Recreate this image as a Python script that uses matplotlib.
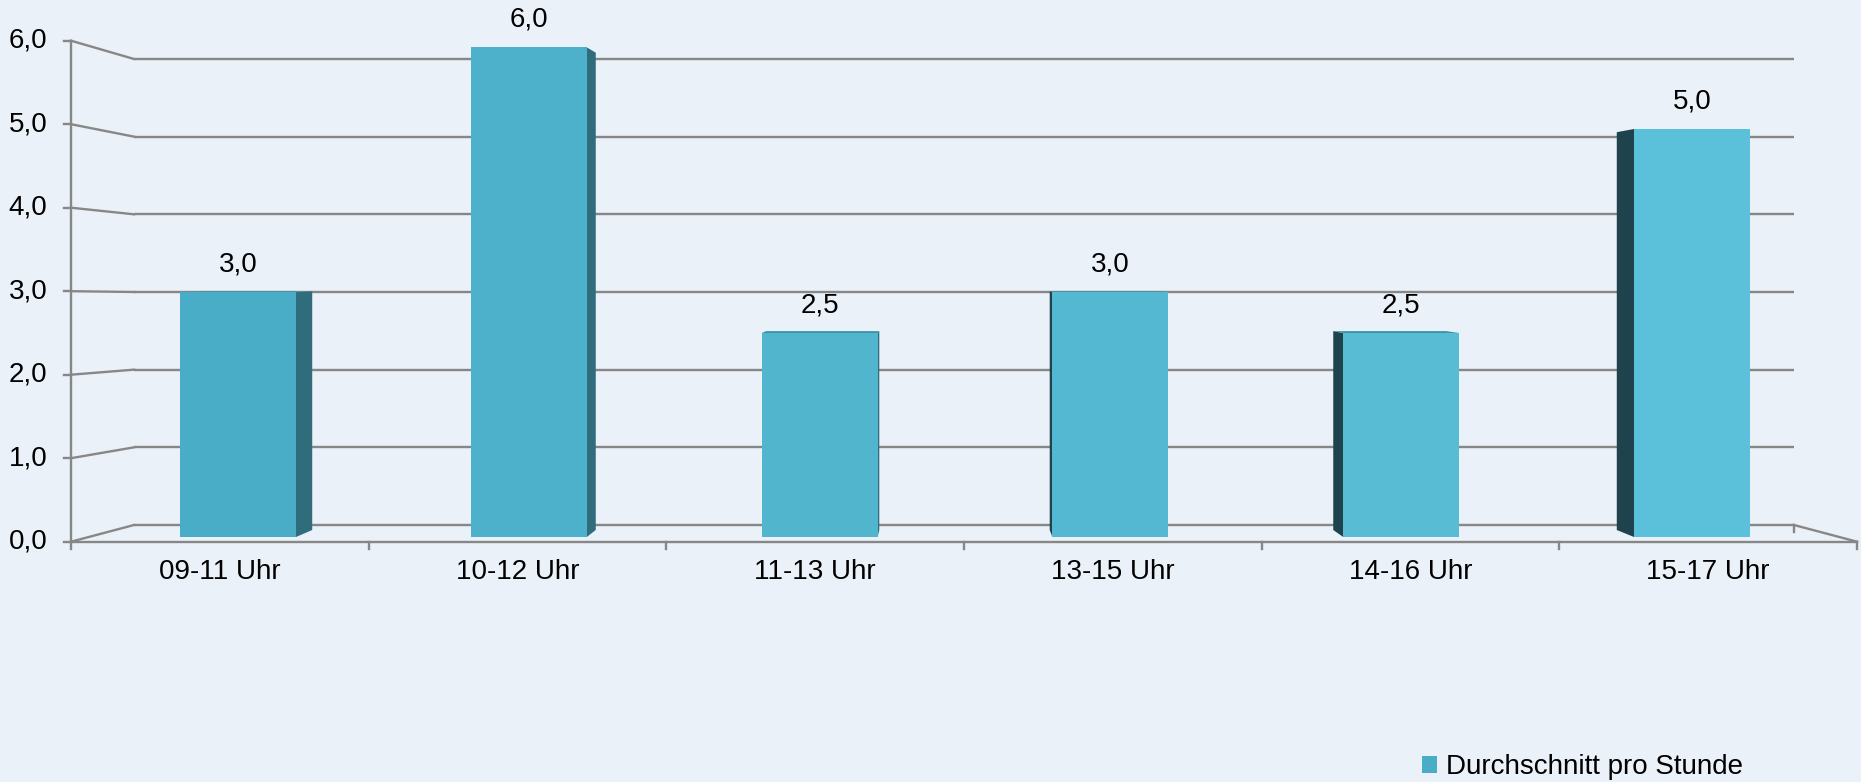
import numpy as np
import matplotlib
matplotlib.use("Agg")
import matplotlib.pyplot as plt
from matplotlib.patches import Patch

# ---- data ----
categories = ["09-11 Uhr", "10-12 Uhr", "11-13 Uhr", "13-15 Uhr", "14-16 Uhr", "15-17 Uhr"]
values = [3.0, 6.0, 2.5, 3.0, 2.5, 5.0]
yticks = [0, 1, 2, 3, 4, 5, 6]
series_name = "Durchschnitt pro Stunde"

# ---- layout / style ----
W, H = 1861, 782
DPI = 100
BG = "#ebf1f8"
GRID = "#878787"
FONT = ["Liberation Sans", "DejaVu Sans"]
FS = 20

# pixel mapping for the data axes (front face of bars)
x0px, dxpx = 238.0, 290.8
y0px, vpx = 537.0, 81.6

fig = plt.figure(figsize=(W / DPI, H / DPI), dpi=DPI, facecolor=BG)
ax = fig.add_axes([0, 0, 1, 1])
ax.set_facecolor(BG)
ax.set_xlim(-x0px / dxpx, (W - x0px) / dxpx)
ax.set_ylim((y0px - H) / vpx, y0px / vpx)
ax.axis("off")

def px2x(p):
    return (p - x0px) / dxpx

def py2y(p):
    return (y0px - p) / vpx

# frame (pseudo-3D walls)
fxl, bxl, bxr, fxr = px2x(71), px2x(134), px2x(1794), px2x(1857)
def yf(v):  # front plane
    return py2y(541.7 - 83.5 * v)
def yb(v):  # back wall
    return py2y(525.0 - 77.67 * v)

lw = 1.7
for v in yticks:
    ax.plot([bxl, bxr], [yb(v), yb(v)], color=GRID, lw=lw, zorder=1, solid_capstyle="butt")
    ax.plot([fxl, bxl], [yf(v), yb(v)], color=GRID, lw=lw, zorder=1)
    ax.plot([fxl - px2x(78) + px2x(71), fxl], [yf(v), yf(v)], color=GRID, lw=lw, zorder=1)
    ax.annotate(f"{v:.1f}".replace(".", ","), (fxl, yf(v)), xytext=(-17, 0),
                textcoords="offset points", ha="right", va="center",
                fontsize=FS, family=FONT, color="black")
ax.plot([bxr, fxr], [yb(0), yf(0)], color=GRID, lw=lw, zorder=1)
ax.plot([fxl, fxl], [yf(0), yf(max(yticks))], color=GRID, lw=lw, zorder=1)
ax.plot([fxl, fxr], [yf(0), yf(0)], color=GRID, lw=lw, zorder=1)
tick_d = py2y(0) - py2y(7)
ncat = len(categories)
for k in range(ncat + 1):
    xt = fxl + k * (fxr - fxl) / ncat
    ax.plot([xt, xt], [yf(0), yf(0) - tick_d], color=GRID, lw=lw, zorder=1)
ax.plot([bxr, bxr], [yb(0), yb(0) - tick_d], color=GRID, lw=lw, zorder=1)

# category labels on the front floor
for k, c in enumerate(categories):
    xc = fxl + (k + 0.5) * (fxr - fxl) / ncat
    ax.annotate(c, (xc, yf(0)), xytext=(0, -22), textcoords="offset points",
                ha="center", va="center", fontsize=FS, family=FONT, color="black")

# bars with perspective sides
x = np.arange(ncat)
bw = 116 / dxpx
front_cols = [plt.matplotlib.colors.to_hex(c) for c in
              np.linspace(np.array(plt.matplotlib.colors.to_rgb("#4aadc7")),
                          np.array(plt.matplotlib.colors.to_rgb("#5bc0d9")), ncat)]
bars = ax.bar(x, values, width=bw, color=front_cols, zorder=4, linewidth=0)

vpx_d, vpy_d = px2x(945), py2y(257)
kdep = 0.025
def back(px, py):
    return px + kdep * (vpx_d - px), py + kdep * (vpy_d - py)

for xi, v in zip(x, values):
    xl, xr = xi - bw / 2, xi + bw / 2
    if xr < vpx_d:
        xs, col = xr, "#2f6d7c"
    else:
        xs, col = xl, "#1f434d"
    b0 = back(xs, 0)
    b1 = back(xs, v)
    ax.fill([xs, xs, b1[0], b0[0]], [0, v, b1[1], b0[1]], color=col, zorder=3, lw=0)
    if v < vpy_d:
        t1 = back(xl, v)
        t2 = back(xr, v)
        ax.fill([xl, xr, t2[0], t1[0]], [v, v, t2[1], t1[1]], color="#3e93a9", zorder=3, lw=0)
    ax.annotate(f"{v:.1f}".replace(".", ","), (xi, v), xytext=(0, 20),
                textcoords="offset points", ha="center", va="center",
                fontsize=FS, family=FONT, color="black")

# legend
leg = fig.legend(handles=[Patch(facecolor=front_cols[0], edgecolor="none", label=series_name)],
                 loc="center left", bbox_to_anchor=(1422 / W, 1 - 767 / H),
                 frameon=False, prop={"family": FONT, "size": FS},
                 handlelength=0.55, handleheight=0.55, handletextpad=0.3, borderpad=0,
                 borderaxespad=0)

fig.savefig("out.png", dpi=DPI, facecolor=BG)
